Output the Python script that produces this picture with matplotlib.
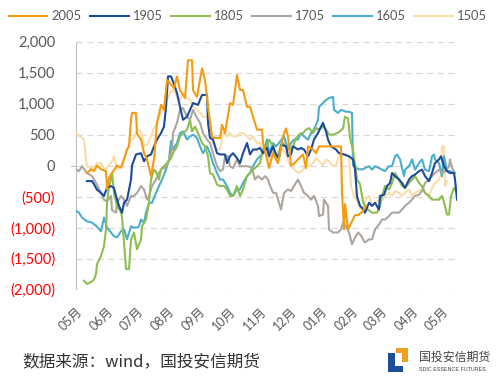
import matplotlib
matplotlib.use("Agg")
import matplotlib.pyplot as plt
import matplotlib.dates as mdates
from matplotlib.patches import Rectangle
import pandas as pd

plt.rcParams['font.family'] = ['Lato', 'Noto Sans CJK SC', 'DejaVu Sans']

# 价差数据：日期按距 5 月 1 日的天数记录
start = pd.Timestamp("2019-05-01")

d2005 = [11, 15, 18, 21, 25, 30, 31, 33, 36, 41, 45, 48, 51, 53, 55, 56, 60, 61, 65, 68,
         71, 75, 78, 81, 85, 88, 91, 94, 98, 101, 104, 109, 112, 116, 117, 121, 126, 129, 132, 136,
         139, 144, 146, 149, 154, 157, 161, 164, 167, 171, 174, 177, 181, 186, 187, 191, 193, 197, 202, 207,
         210, 212, 215, 218, 222, 227, 230, 232, 237, 240, 243, 248, 254, 260, 265, 266, 268, 269, 272, 276,
         279, 282, 286, 290]
v2005 = [-120, -60, -90, 0, -60, -90, -380, -200, -120, 0, -30, 100, 260, 310, 740, 850, 850, 520, 420, 200,
         100, -170, 100, 690, 980, 900, 1380, 1330, 1250, 1440, 1220, 1090, 1700, 1700, 1220, 1110, 1570, 1380, 950, 470,
         445, 445, 660, 525, 1010, 980, 1460, 1220, 1220, 950, 950, 790, 580, 580, 365, 100, -40, 200, 40, 470,
         600, 470, 0, 30, 100, 180, -40, 310, 260, 200, 310, 310, 310, 310, 310, -430, -1030, -620, -1030, -900,
         -800, -800, -750, -650]

d1905 = [11, 16, 18, 21, 25, 28, 31, 35, 38, 40, 43, 46, 48, 51, 53, 55, 56, 60, 65, 68,
         71, 75, 78, 81, 85, 88, 90, 92, 95, 97, 101, 104, 107, 111, 114, 117, 122, 126, 131, 132,
         134, 137, 141, 144, 149, 151, 154, 157, 161, 164, 167, 171, 174, 177, 181, 184, 187, 191, 193, 197,
         200, 203, 205, 210, 212, 215, 217, 222, 225, 228, 232, 235, 238, 242, 245, 247, 250, 252, 255, 260,
         263, 268, 273, 277, 279, 281, 284, 287, 289, 293, 296, 299, 303, 304, 308, 311, 314, 316, 319, 323,
         326, 329, 333, 336, 339, 343, 346, 349, 353, 356, 359, 363, 365, 368, 371, 374, 378, 379, 381]
v1905 = [-250, -250, -300, -390, -440, -490, -360, -330, -360, -490, -650, -760, -600, -550, -390, -225, 0, 180, 200, 70,
         150, 180, 310, 420, 525, 630, 950, 1440, 1440, 1360, 1170, 950, 740, 790, 900, 1010, 980, 1140, 1140, 690,
         445, 420, 200, 180, 180, 40, 150, 200, 120, 40, 200, 365, 180, 260, 260, 285, 200, 285, 150, 310,
         180, 120, 340, 310, 150, 180, 310, 260, 285, 260, 150, 260, 420, 525, 630, 690, 550, 420, 310, 260,
         200, 180, 150, 100, -60, -500, -650, -700, -760, -600, -650, -600, -710, -490, -470, -330, -280, -120, -170, -225,
         -280, -360, -225, -170, -145, -90, -65, -170, -250, -120, 40, 100, 150, -10, -90, -120, -120, -225, -550]

d1805 = [8, 11, 15, 18, 20, 21, 25, 28, 30, 31, 33, 35, 36, 38, 41, 45, 46, 48, 50, 53,
         55, 58, 61, 65, 66, 70, 73, 75, 78, 80, 83, 85, 88, 91, 95, 97, 101, 104, 107, 111,
         114, 116, 119, 122, 126, 129, 132, 134, 137, 141, 144, 148, 151, 154, 157, 161, 164, 167, 171, 174,
         177, 181, 184, 187, 191, 193, 197, 200, 203, 207, 210, 213, 217, 220, 223, 227, 230, 233, 237, 240,
         243, 247, 250, 253, 257, 262, 267, 269, 272, 274, 277, 281, 284, 287, 291, 296, 301, 304, 306, 309,
         313, 316, 319, 323, 326, 329, 333, 336, 339, 343, 346, 349, 353, 356, 359, 363, 366, 369, 371, 373,
         375, 378, 381]
v1805 = [-1860, -1910, -1880, -1840, -1750, -1590, -1460, -1300, -1030, -600, -330, -220, -120, -440, -650, -750, -830, -1240, -1670, -1670,
         -1190, -1080, -1350, -1190, -980, -870, -600, -225, -65, -100, -225, -65, -10, 40, 120, 200, 310, 470, 525, 580,
         740, 550, 630, 525, 365, 310, 150, -120, -145, -305, -330, -330, -385, -490, -490, -330, -490, -385, -170, -120,
         -65, -10, 40, 260, 310, 420, 310, 100, 200, 365, 310, 260, 310, 445, 500, 525, 580, 605, 525, 605,
         580, 630, 580, 500, 500, 530, 600, 790, 760, 450, 250, -225, -300, -590, -700, -760, -760, -650, -490, -330,
         -385, -280, -120, -225, -330, -360, -280, -225, -170, -280, -330, -440, -490, -550, -550, -550, -490, -650, -790, -790,
         -490, -360, -440]

d1705 = [0, 3, 6, 11, 16, 20, 25, 28, 31, 35, 36, 40, 41, 45, 48, 51, 55, 58, 61, 65,
         68, 71, 73, 76, 80, 83, 86, 90, 93, 96, 97, 101, 104, 107, 111, 114, 117, 121, 124, 127,
         131, 134, 137, 141, 144, 147, 149, 152, 154, 157, 161, 164, 167, 172, 176, 179, 182, 186, 189, 192,
         193, 197, 200, 203, 205, 208, 212, 215, 218, 222, 225, 228, 232, 235, 238, 242, 243, 247, 248, 252,
         253, 257, 262, 265, 267, 270, 273, 276, 278, 282, 285, 288, 289, 293, 296, 299, 303, 306, 309, 313,
         316, 319, 323, 326, 329, 333, 336, 339, 343, 346, 349, 353, 356, 359, 363, 366, 369, 373, 374, 376,
         379]
v1705 = [-60, -90, -10, -120, -170, -280, -440, -550, -575, -490, -720, -760, -600, -490, -550, -650, -490, -490, -440, -330,
         -385, -550, -490, -330, -225, -120, -40, -40, 100, 260, 525, 690, 900, 930, 790, 740, 900, 770, 690, 525,
         420, 365, 200, -10, -90, -60, 150, 150, -10, -40, 100, -10, -10, -10, -40, -225, -170, -225, -170, -225,
         -280, -440, -440, -600, -710, -440, -385, -410, -330, -225, -330, -440, -490, -550, -490, -650, -815, -790, -550, -650,
         -1030, -1080, -1080, -1030, -920, -980, -1080, -1270, -1190, -1080, -1130, -1220, -1240, -1190, -1190, -1030, -950, -870, -870, -815,
         -760, -760, -760, -710, -650, -600, -550, -490, -470, -410, -280, -225, -170, -120, -65, -120, -90, -10, 100, -40,
         -120]

d1605 = [0, 3, 6, 11, 16, 20, 25, 28, 31, 35, 38, 41, 45, 48, 51, 55, 58, 61, 63, 65,
         68, 70, 73, 76, 80, 83, 86, 90, 93, 95, 97, 101, 104, 107, 111, 114, 117, 121, 124, 127,
         131, 134, 137, 141, 144, 147, 151, 154, 157, 161, 164, 167, 171, 174, 177, 181, 184, 187, 191, 193,
         197, 200, 203, 208, 212, 215, 218, 222, 225, 228, 232, 235, 238, 242, 243, 247, 250, 253, 257, 258,
         262, 265, 270, 273, 276, 277, 280, 283, 287, 289, 293, 296, 299, 303, 306, 309, 313, 316, 319, 321,
         324, 328, 329, 333, 336, 339, 343, 346, 349, 353, 356, 358, 359, 363, 366, 368, 371, 374, 378]
v1605 = [-730, -760, -840, -900, -920, -970, -1060, -840, -1000, -1080, -1140, -1160, -1060, -1030, -1190, -980, -1000, -1000, -980, -870,
         -920, -760, -600, -600, -440, -330, -225, -65, 100, 400, 260, 365, 525, 550, 420, 470, 500, 445, 310, 200,
         310, 200, 40, -120, -225, -225, -330, -440, -490, -385, -385, -280, -170, -120, -10, 100, 150, 200, 420, 200,
         365, 310, 365, 470, 260, 365, 420, 420, 525, 470, 420, 525, 580, 740, 950, 1010, 1060, 1090, 1110, 900,
         850, 900, 870, 870, 850, 0, -40, -60, -60, -40, -10, -65, -10, -40, -65, -90, -10, -10, 150, 180,
         100, -170, -65, -10, 100, -65, 40, 100, -65, -90, 150, 180, 100, 40, -170, 150, -90, -90, -120]

d1505 = [0, 1, 5, 8, 10, 11, 16, 21, 25, 28, 31, 35, 38, 41, 45, 48, 51, 55, 58, 61,
         65, 68, 71, 75, 78, 81, 85, 88, 91, 94, 97, 101, 104, 107, 111, 114, 117, 121, 124, 127,
         131, 134, 137, 141, 144, 147, 151, 154, 157, 161, 164, 167, 171, 174, 177, 181, 184, 187, 191, 193,
         197, 200, 203, 207, 210, 213, 217, 220, 223, 227, 230, 233, 237, 240, 243, 247, 250, 253, 257, 260,
         263, 267, 270, 273, 275, 278, 282, 285, 288, 289, 293, 296, 299, 303, 306, 309, 313, 316, 319, 323,
         326, 329, 333, 336, 339, 343, 346, 349, 353, 356, 359, 363, 365, 366, 368, 369, 371]
v1505 = [500, 520, 460, 420, 100, -10, -60, 40, 40, -60, -30, 40, 150, -60, -30, 100, 260, 420, 445, 580,
         550, 310, 340, 470, 605, 690, 850, 950, 1060, 1170, 1220, 1110, 1060, 1170, 1090, 1060, 950, 900, 850, 790,
         790, 690, 365, 260, 260, 525, 470, 525, 470, 470, 525, 525, 470, 420, 470, 365, 365, 260, 200, 100,
         260, 180, 260, 260, 180, 40, -40, -90, -120, -65, 10, -10, 40, 120, 70, 10, 100, 70, -10, 10,
         150, 180, 180, 150, -330, -490, -600, -710, -650, -560, -490, -650, -600, -560, -560, -490, -440, -490, -410, -440,
         -490, -440, -385, -490, -440, -410, -385, -440, -490, -360, -280, -225, -170, 310, 310, -330, -250]

names = ["2005", "1905", "1805", "1705", "1605", "1505"]
days = [d2005, d1905, d1805, d1705, d1605, d1505]
values = [v2005, v1905, v1805, v1705, v1605, v1505]
colors = ["#F39C12", "#1B4B9B", "#8DBE4F", "#ADA69F", "#4BAFCB", "#F9DDAA"]

yticks = [2000, 1500, 1000, 500, 0, -500, -1000, -1500, -2000]


def ylab(v):
    return f"({abs(v):,})" if v < 0 else f"{v:,}"


fig = plt.figure(figsize=(5.03, 3.84), dpi=100)
ax = fig.add_axes([0.1511, 0.2461, 0.7575, 0.6453])

handles = []
for i, (name, d, v, c) in enumerate(zip(names, days, values, colors)):
    x = start + pd.to_timedelta(d, unit="D")
    h, = ax.plot(x, v, color=c, lw=1.5, label=name, zorder=10 - i)
    handles.append(h)

ax.set_xlim(start, start + pd.Timedelta(days=381))
ax.set_ylim(-2000, 2000)

ax.set_yticks(yticks, labels=[ylab(v) for v in yticks])
for lbl, v in zip(ax.get_yticklabels(), yticks):
    lbl.set_color("#FF0000" if v < 0 else "#595959")
ax.tick_params(axis="y", length=0, pad=15, labelsize=10.5)

ax.xaxis.set_major_locator(mdates.MonthLocator())
ax.xaxis.set_major_formatter(mdates.DateFormatter("%m月"))
ax.tick_params(axis="x", length=0, pad=11, labelsize=9, labelcolor="#595959")
for lbl in ax.get_xticklabels():
    lbl.set_rotation(45)
    lbl.set_ha("right")
    lbl.set_va("top")
    lbl.set_rotation_mode("anchor")

ax.yaxis.grid(True, color="#D9D9D9", lw=0.9, ls=(0, (5, 3.5)))
ax.set_axisbelow(True)
for s in ["top", "right", "bottom"]:
    ax.spines[s].set_visible(False)
ax.spines["left"].set_color("#BFBFBF")
ax.spines["left"].set_linewidth(0.8)
ax.plot([-0.012, 0], [0, 0], transform=ax.get_yaxis_transform(), clip_on=False,
        color="#BFBFBF", lw=0.8)

fig.legend(handles=handles, loc="center", bbox_to_anchor=(0.493, 0.958), ncol=6,
           frameon=False, fontsize=9.3, handlelength=3.0, handletextpad=0.32,
           columnspacing=0.64, borderpad=0, labelcolor="#595959")

fig.text(0.0437, 0.057, "数据来源：wind，国投安信期货", fontsize=12, color="#333333",
         family=["Noto Sans CJK SC"], va="center", ha="left")

# 公司标识
W, H = 503, 384


def px(x0, y0, w, h, c):
    fig.add_artist(Rectangle((x0 / W, 1 - (y0 + h) / H), w / W, h / H,
                             transform=fig.transFigure, color=c, lw=0))


px(396, 348, 12, 5, "#F0A020")
px(402, 348, 6, 14, "#F0A020")
px(388, 353, 7, 19, "#1C4E9A")
px(388, 366, 15, 6, "#1C4E9A")
fig.text(419 / W, 1 - 357 / H, "国投安信期货", fontsize=8.6, color="#444444",
         family=["Noto Sans CJK SC"], va="center", ha="left")
fig.text(419 / W, 1 - 369.5 / H, "SDIC ESSENCE FUTURES", fontsize=3.9, color="#444444",
         family=["Liberation Sans"], va="center", ha="left")

fig.savefig("out.png", dpi=100)
